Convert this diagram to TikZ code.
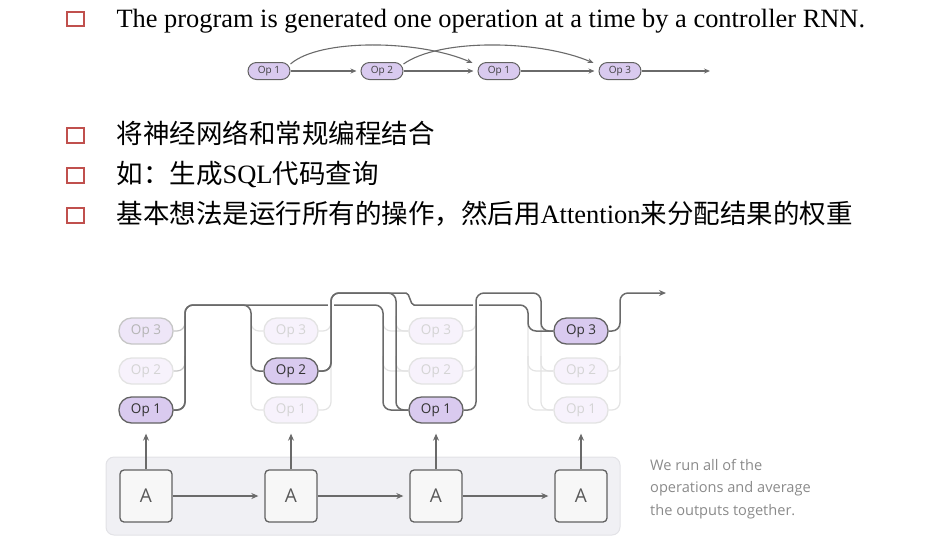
\documentclass[tikz,border=0pt]{standalone}
\usepackage{fontspec}
\setmainfont{Liberation Serif}
\newfontfamily\cjk{Noto Sans CJK SC}
\newfontfamily\opsans{Open Sans}
\usetikzlibrary{arrows.meta}
\definecolor{bul}{HTML}{C0504D}
\definecolor{opfill}{HTML}{D9CAEF}
\definecolor{opdraw}{HTML}{626262}
\definecolor{fafill}{HTML}{F7F2FC}
\definecolor{fadraw}{HTML}{E3E3E3}
\definecolor{fatext}{HTML}{D4D4D4}
\definecolor{sefill}{HTML}{EEE6F8}
\definecolor{sedraw}{HTML}{C6C6C6}
\definecolor{setext}{HTML}{B5B5B5}
\definecolor{wire}{HTML}{6A6A6A}
\definecolor{bgc}{HTML}{F0F0F4}
\definecolor{bgd}{HTML}{E2E2E6}
\definecolor{note}{HTML}{8A8A8A}
\tikzset{
  bulletbox/.style={draw=bul, line width=2.2pt, minimum width=16.5pt, minimum height=14.5pt, inner sep=0pt},
  opbase/.style={rounded corners=12.5pt, minimum width=54pt, minimum height=26pt, inner sep=0pt, line width=1.3pt, font=\opsans\fontsize{13.5}{15}\selectfont},
  opact/.style={opbase, fill=opfill, draw=opdraw, text=black!80},
  opfaint/.style={opbase, fill=fafill, draw=fadraw, text=fatext},
  opsemi/.style={opbase, fill=sefill, draw=sedraw, text=setext},
  minop/.style={rounded corners=8.5pt, minimum width=42pt, minimum height=17pt, inner sep=0pt, line width=1pt, fill=opfill, draw=opdraw, text=black!75, font=\opsans\fontsize{10}{12}\selectfont},
  abox/.style={rounded corners=4pt, minimum width=52pt, minimum height=52pt, inner sep=0pt, line width=1.3pt, fill=black!3, draw=black!62, text=black!65, font=\opsans\fontsize{19}{22}\selectfont},
  act/.style={draw=wire, line width=1.5pt, rounded corners=8pt},
  faint/.style={draw=fadraw, line width=1.2pt, rounded corners=8pt},
  semi/.style={draw=sedraw, line width=1.2pt, rounded corners=8pt},
  arr/.style={draw=wire, line width=1.4pt, -{Stealth[length=7pt,width=6pt]}},
  marr/.style={draw=wire, line width=1.1pt, -{Stealth[length=6pt,width=5pt]}},
}
\begin{document}
\begin{tikzpicture}[x=1pt,y=-1pt]
\useasboundingbox (0,0) rectangle (939,550);

% bullets and text
\node[bulletbox] (b1) at (75.5,19) {};
\node[anchor=base west, font=\fontsize{26.4}{30}\selectfont] (t1) at (113,27) {The program is generated one operation at a time by a controller RNN.};
\node[bulletbox] (b2) at (75.5,135.5) {};
\node[anchor=base west, font=\fontsize{26.5}{30}\selectfont] (t2) at (113,143) {\cjk 将神经网络和常规编程结合};
\node[bulletbox] (b3) at (75.5,175.5) {};
\node[anchor=base west, font=\fontsize{26.5}{30}\selectfont] (t3) at (113,183) {{\cjk 如：生成}SQL{\cjk 代码查询}};
\node[bulletbox] (b4) at (75.5,215.5) {};
\node[anchor=base west, font=\fontsize{26.5}{30}\selectfont] (t4) at (113,223) {{\cjk 基本想法是运行所有的操作，然后用}Attention{\cjk 来分配结果的权重}};

% mini diagram
\node[minop] (m1) at (269,71) {Op 1};
\node[minop] (m2) at (382,71) {Op 2};
\node[minop] (m3) at (499,71) {Op 1};
\node[minop] (m4) at (620,71) {Op 3};
\coordinate (mend) at (710,71);
\draw[marr] (m1.east) -- ([xshift=-4pt]m2.west);
\draw[marr] (m2.east) -- ([xshift=-4pt]m3.west);
\draw[marr] (m3.east) -- ([xshift=-4pt]m4.west);
\draw[marr] (m4.east) -- (mend);
\draw[marr] (m1.18) .. controls (320,38) and (420,40) .. ([xshift=-5pt,yshift=-1pt]m3.north west);
\draw[marr] (m2.18) .. controls (440,38) and (540,40) .. ([xshift=-5pt,yshift=-1pt]m4.north west);

% background of controller
\draw[fill=bgc, draw=bgd, line width=1pt, rounded corners=8pt] (106,457) rectangle (620,535);

% A boxes
\node[abox] (A1) at (146,496) {A};
\node[abox] (A2) at (291,496) {A};
\node[abox] (A3) at (436,496) {A};
\node[abox] (A4) at (581,496) {A};
\draw[arr] (A1.east) -- ([xshift=-6pt]A2.west);
\draw[arr] (A2.east) -- ([xshift=-6pt]A3.west);
\draw[arr] (A3.east) -- ([xshift=-6pt]A4.west);

% op nodes
\node[opsemi]  (c1o3) at (146,331) {Op 3};
\node[opfaint] (c1o2) at (146,371) {Op 2};
\node[opact]   (c1o1) at (146,410) {Op 1};
\node[opfaint] (c2o3) at (291,331) {Op 3};
\node[opact]   (c2o2) at (291,371) {Op 2};
\node[opfaint] (c2o1) at (291,410) {Op 1};
\node[opfaint] (c3o3) at (436,331) {Op 3};
\node[opfaint] (c3o2) at (436,371) {Op 2};
\node[opact]   (c3o1) at (436,410) {Op 1};
\node[opact]   (c4o3) at (581,331) {Op 3};
\node[opfaint] (c4o2) at (581,371) {Op 2};
\node[opfaint] (c4o1) at (581,410) {Op 1};

% vertical arrows
\draw[arr] (A1.north) -- ([yshift=-10pt]c1o1.south);
\draw[arr] (A2.north) -- ([yshift=-10pt]c2o1.south);
\draw[arr] (A3.north) -- ([yshift=-10pt]c3o1.south);
\draw[arr] (A4.north) -- ([yshift=-10pt]c4o1.south);

% faint wiring
\draw[semi] (c1o3.east) -- (185,331) -- (185,316);
\draw[semi] (c1o2.east) -- (185,371) -- (185,356);
% col2
\draw[faint] (251,316) -- (251,410) -- (c2o1.west);
\draw[faint] (251,318) -- (251,331) -- (c2o3.west);
\draw[faint] (c2o1.east) -- (331,410) -- (331,360);
\draw[faint] (c2o3.east) -- (331,331) -- (331,316);
% col3
\draw[faint] (383,316) -- (383,331) -- (c3o3.west);
\draw[faint] (396,316) -- (396,331) -- (c3o3.west);
\draw[faint] (383,356) -- (383,371) -- (c3o2.west);
\draw[faint] (396,356) -- (396,371) -- (c3o2.west);
\draw[faint] (c3o3.east) -- (476,331) -- (476,316);
\draw[faint] (c3o2.east) -- (476,371) -- (476,356);
% col4
\draw[faint] (528,320) -- (528,410) -- (c4o1.west);
\draw[faint] (541,320) -- (541,410) -- (c4o1.west);
\draw[faint] (528,356) -- (528,371) -- (c4o2.west);
\draw[faint] (541,356) -- (541,371) -- (c4o2.west);
\draw[faint] (c4o1.east) -- (620,410) -- (620,320);
\draw[faint] (c4o2.east) -- (620,371) -- (620,356);

% active wiring
\draw[act] (c1o1.east) -- (185,410) -- (185,305) -- (251,305) -- (251,371) -- (c2o2.west);
\draw[act] (c1o1.east) -- (185,410) -- (185,305) -- (383,305) -- (383,410) -- (c3o1.west);
\draw[white, line width=6pt] (331,300) -- (331,310);
\draw[act] (c2o2.east) -- (331,371) -- (331,293) -- (396,293) -- (396,410) -- (c3o1.west);
\draw[act] (c2o2.east) -- (331,371) -- (331,293) -- (398,293) .. controls (410,293) and (410,305) .. (422,305) -- (528,305) -- (528,331) -- (c4o3.west);
\draw[white, line width=6pt] (476,300) -- (476,310);
\draw[act] (c3o1.east) -- (476,410) -- (476,293) -- (541,293) -- (541,331) -- (c4o3.west);
\coordinate (outend) at (666,293);
\draw[act, -{Stealth[length=7pt,width=6pt]}] (c4o3.east) -- (620,331) -- (620,293) -- (outend);

% note
\node[anchor=north west, align=left, text=note, font=\opsans\fontsize{14.6}{22.5}\selectfont, inner sep=0pt] (note) at (650,459) {We run all of the\\operations and average\\the outputs together.};
\end{tikzpicture}
\end{document}
